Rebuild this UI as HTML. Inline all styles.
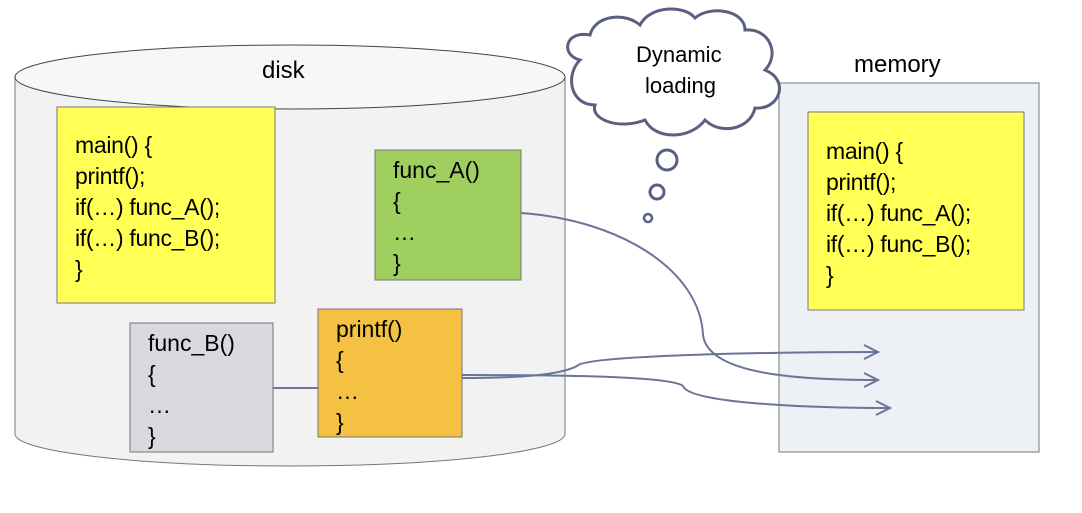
<!DOCTYPE html>
<html><head><style>
body{margin:0;background:#fff;width:1082px;height:508px;overflow:hidden}
svg text{font-family:"Liberation Sans",sans-serif;font-size:23px;fill:#000}
</style></head><body>
<svg width="1082" height="508" xmlns="http://www.w3.org/2000/svg">
<defs><marker id="ar" markerWidth="20" markerHeight="20" refX="16" refY="8" orient="auto" markerUnits="userSpaceOnUse"><path d="M2,1 L16,8 L2,15" fill="none" stroke="#6b7499" stroke-width="2"/></marker></defs>
<path d="M15,77 L15,434 A275,32 0 0 0 565,434 L565,77" fill="#f2f2f2" stroke="#777" stroke-width="1"/>
<ellipse cx="290" cy="77" rx="275" ry="32" fill="#f7f7f7" stroke="#444" stroke-width="1"/>
<text x="262" y="78" style="font-size:24px">disk</text>
<rect x="57" y="107" width="218" height="196" fill="#ffff55" stroke="#777"/>
<g style="letter-spacing:-0.3px">
<text x="75" y="153">main() {</text><text x="75" y="184">printf();</text><text x="75" y="215">if(…) func_A();</text><text x="75" y="246">if(…) func_B();</text><text x="75" y="277">}</text>
</g>
<rect x="375" y="150" width="146" height="130" fill="#9fcf5f" stroke="#777"/>
<text x="393" y="178">func_A()</text><text x="393" y="209">{</text><text x="393" y="240">…</text><text x="393" y="271">}</text>
<rect x="130" y="323" width="143" height="129" fill="#d8d8de" stroke="#777"/>
<text x="148" y="351">func_B()</text><text x="148" y="382">{</text><text x="148" y="413">…</text><text x="148" y="444">}</text>
<rect x="318" y="309" width="144" height="128" fill="#f4c142" stroke="#777"/>
<text x="336" y="337">printf()</text><text x="336" y="368">{</text><text x="336" y="399">…</text><text x="336" y="430">}</text>
<line x1="273" y1="388" x2="318" y2="388" stroke="#6b7499" stroke-width="2"/>
<rect x="779" y="83" width="260" height="369" fill="#edf0f5" stroke="#777"/>
<text x="854" y="72" style="font-size:24px">memory</text>
<rect x="808" y="112" width="216" height="198" fill="#ffff55" stroke="#777"/>
<g style="letter-spacing:-0.3px">
<text x="826" y="159">main() {</text><text x="826" y="190">printf();</text><text x="826" y="221">if(…) func_A();</text><text x="826" y="252">if(…) func_B();</text><text x="826" y="283">}</text>
</g>
<path d="M580,60 C560,55 565,30 590,35 C595,15 625,12 640,25 C650,5 685,5 695,18 C710,5 745,10 745,30 C770,28 780,55 765,70 C790,80 780,110 755,108 C750,130 720,135 705,120 C690,140 655,140 645,120 C620,130 590,120 595,105 C570,105 565,75 580,60 Z" fill="#fff" stroke="#5a6080" stroke-width="3"/>
<text x="636" y="62" style="font-size:22px">Dynamic</text><text x="645" y="93" style="font-size:22px">loading</text>
<circle cx="667" cy="160" r="10" fill="#fff" stroke="#5a6080" stroke-width="3"/>
<circle cx="657" cy="192" r="7" fill="#fff" stroke="#5a6080" stroke-width="3"/>
<circle cx="648" cy="218" r="4" fill="#fff" stroke="#5a6080" stroke-width="2.5"/>
<g fill="none" stroke="#6b7499" stroke-width="2">
<path d="M521,213 C620,220 700,270 703,335 C708,375 800,380 878,380" marker-end="url(#ar)"/>
<path d="M462,378 C520,378 560,375 577,366 C585,355 780,352 878,352" marker-end="url(#ar)"/>
<path d="M462,375 C530,375 670,375 683,386 C690,405 830,408 890,408" marker-end="url(#ar)"/>
</g>
</svg>
</body></html>
